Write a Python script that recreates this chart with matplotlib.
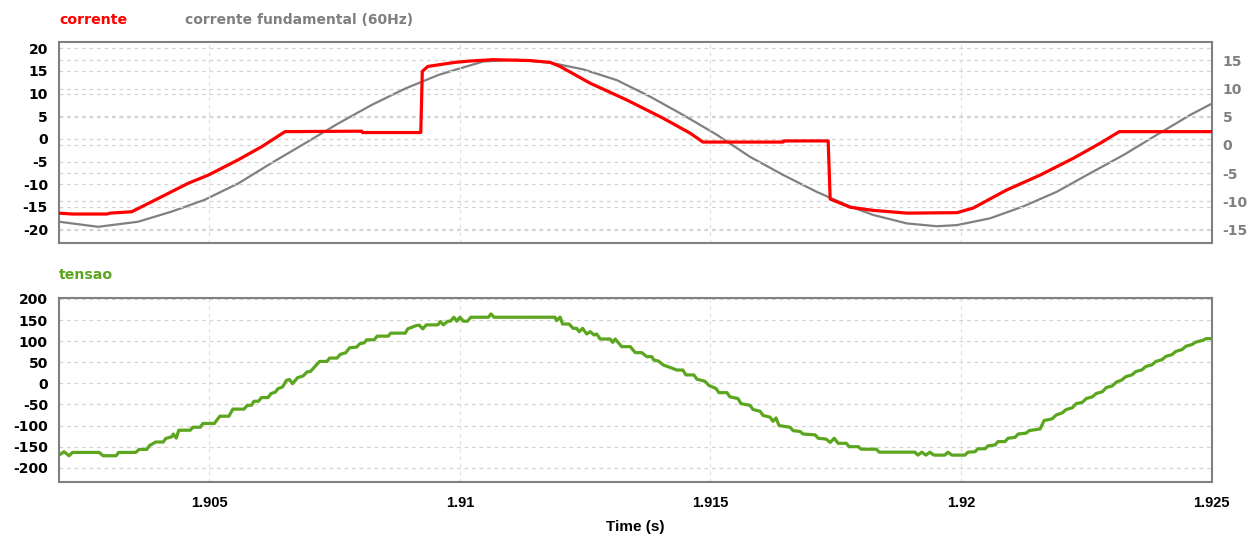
import matplotlib
matplotlib.use("Agg")
import matplotlib.pyplot as plt

plt.rcParams['font.family'] = ['DejaVu Sans']

# ---- data: corrente (red, left axis) ----
corrente_t = [1.90200, 1.90226, 1.90296, 1.90302, 1.90345, 1.90392, 1.90458, 1.90498,
              1.90558, 1.90605, 1.90651, 1.90804, 1.90806, 1.90922, 1.90925, 1.90936,
              1.90990, 1.91020, 1.91066, 1.91140, 1.91180, 1.91200, 1.91260, 1.91333,
              1.91405, 1.91459, 1.91485, 1.91645, 1.91647, 1.91735, 1.91739, 1.91779,
              1.91825, 1.91892, 1.91992, 1.92024, 1.92091, 1.92158, 1.92224, 1.92278,
              1.92316, 1.92500]
corrente_v = [-16.4, -16.6, -16.6, -16.4, -16.1, -13.5, -9.8, -8.0,
              -4.6, -1.7, 1.6, 1.7, 1.4, 1.4, 14.9, 16.0,
              16.9, 17.2, 17.5, 17.3, 16.9, 16.0, 12.3, 8.6,
              4.6, 1.3, -0.7, -0.7, -0.45, -0.45, -13.3, -15.1,
              -15.8, -16.4, -16.3, -15.3, -11.3, -8.0, -4.3, -0.95,
              1.6, 1.6]

# ---- data: corrente fundamental (gray, right axis) ----
fund_t = [1.90200, 1.90278, 1.90358, 1.90425, 1.90491, 1.90558, 1.90624, 1.90691,
          1.90757, 1.90824, 1.90891, 1.90957, 1.90990, 1.91047, 1.91113, 1.91180,
          1.91246, 1.91313, 1.91379, 1.91446, 1.91513, 1.91579, 1.91645, 1.91712,
          1.91779, 1.91825, 1.91892, 1.91952, 1.91992, 1.92058, 1.92124, 1.92191,
          1.92258, 1.92324, 1.92391, 1.92457, 1.92500]
fund_v = [-13.6, -14.5, -13.6, -11.8, -9.7, -6.8, -3.2, 0.3,
          3.8, 7.1, 10.0, 12.4, 13.3, 14.8, 15.1, 14.6,
          13.4, 11.5, 8.6, 5.3, 1.8, -2.1, -5.3, -8.3,
          -10.9, -12.4, -13.9, -14.4, -14.2, -13.0, -10.9, -8.3,
          -5.0, -1.8, 1.8, 5.3, 7.3]

# ---- data: tensao (green, bottom panel) ----
tensao_t = [1.90200, 1.90210, 1.90220, 1.90227, 1.90280, 1.90288, 1.90314, 1.90319,
            1.90353, 1.90360, 1.90375, 1.90381, 1.90393, 1.90408, 1.90413, 1.90425,
            1.90428, 1.90434, 1.90439, 1.90462, 1.90467, 1.90482, 1.90487, 1.90510,
            1.90521, 1.90539, 1.90547, 1.90569, 1.90576, 1.90584, 1.90589, 1.90598,
            1.90604, 1.90617, 1.90623, 1.90632, 1.90637, 1.90646, 1.90654, 1.90660,
            1.90666, 1.90676, 1.90687, 1.90695, 1.90702, 1.90720, 1.90735, 1.90740,
            1.90755, 1.90761, 1.90772, 1.90780, 1.90794, 1.90800, 1.90809, 1.90814,
            1.90829, 1.90835, 1.90857, 1.90862, 1.90891, 1.90896, 1.90913, 1.90919,
            1.90926, 1.90933, 1.90956, 1.90961, 1.90967, 1.90976, 1.90981, 1.90988,
            1.90994, 1.91000, 1.91007, 1.91015, 1.91022, 1.91057, 1.91062, 1.91068,
            1.91190, 1.91193, 1.91200, 1.91205, 1.91218, 1.91226, 1.91233, 1.91238,
            1.91245, 1.91253, 1.91260, 1.91268, 1.91273, 1.91280, 1.91300, 1.91305,
            1.91310, 1.91323, 1.91340, 1.91350, 1.91363, 1.91373, 1.91383, 1.91387,
            1.91396, 1.91406, 1.91419, 1.91433, 1.91445, 1.91451, 1.91467, 1.91473,
            1.91489, 1.91497, 1.91511, 1.91517, 1.91533, 1.91539, 1.91555, 1.91561,
            1.91579, 1.91585, 1.91599, 1.91605, 1.91619, 1.91625, 1.91631, 1.91637,
            1.91659, 1.91665, 1.91679, 1.91685, 1.91709, 1.91715, 1.91731, 1.91739,
            1.91747, 1.91755, 1.91771, 1.91777, 1.91795, 1.91801, 1.91831, 1.91837,
            1.91908, 1.91914, 1.91922, 1.91930, 1.91938, 1.91946, 1.91968, 1.91974,
            1.91982, 1.92008, 1.92014, 1.92028, 1.92034, 1.92048, 1.92054, 1.92068,
            1.92074, 1.92088, 1.92094, 1.92108, 1.92114, 1.92130, 1.92136, 1.92158,
            1.92166, 1.92182, 1.92190, 1.92202, 1.92210, 1.92222, 1.92230, 1.92242,
            1.92250, 1.92262, 1.92270, 1.92282, 1.92290, 1.92302, 1.92310, 1.92321,
            1.92329, 1.92341, 1.92349, 1.92361, 1.92369, 1.92381, 1.92389, 1.92401,
            1.92409, 1.92421, 1.92429, 1.92441, 1.92449, 1.92461, 1.92469, 1.92483,
            1.92489, 1.92500]
tensao_v = [-170, -162, -171.5, -163.6, -163.6, -171.5, -171.5, -163.6,
            -163.6, -156.5, -156.5, -147, -139, -139, -130.5, -126.6,
            -120, -129.8, -111, -111, -104, -104, -95, -95,
            -77.8, -77.8, -61, -61, -52, -52, -42.4, -42.4,
            -33.7, -33.7, -24.3, -20.4, -12.5, -8.6, 7.2, 9,
            -0.7, 13.5, 17.4, 26.9, 28.4, 52, 52, 60,
            60, 68.6, 72.5, 84.3, 85.9, 93.8, 96.1, 103.2,
            103.2, 111.9, 111.9, 119, 119, 129.2, 137, 137.8,
            129.2, 138.6, 138.6, 146.5, 138.6, 147.3, 147.3, 156.7,
            147.3, 156.7, 147.3, 147.3, 156.7, 156.7, 164.6, 156.7,
            156.7, 148.5, 157, 140.6, 140.6, 130.4, 130.4, 122.5,
            130.4, 117, 122.5, 114.6, 117, 105.1, 105.1, 97.2,
            105.1, 87, 87, 72.8, 72.8, 63.3, 63.3, 55.4,
            53, 43.5, 38, 31.6, 31.6, 20, 20, 10,
            5, -5, -12, -22, -22, -32, -36, -48,
            -52, -62, -66, -76, -80, -90, -82, -100,
            -104, -112, -114, -120, -122, -130, -132, -140,
            -130, -142, -142, -150, -150, -156, -156, -163,
            -163, -170, -163, -170, -163, -170, -170, -163,
            -170, -170, -163, -162, -155, -155, -148, -146,
            -138, -138, -130, -128, -120, -118, -112, -108,
            -88, -84, -75, -70, -62, -58, -48, -45,
            -36, -32, -24, -20, -10, -6, 3, 8,
            16, 20, 28, 32, 40, 44, 52, 56,
            64, 68, 76, 80, 88, 92, 98, 102,
            106, 106]

x_ticks = [1.905, 1.91, 1.915, 1.92, 1.925]
x_ticklabels = ['1.905', '1.91', '1.915', '1.92', '1.925']
left_ticks = [-20, -15, -10, -5, 0, 5, 10, 15, 20]
right_ticks = [-15, -10, -5, 0, 5, 10, 15]
volt_ticks = [-200, -150, -100, -50, 0, 50, 100, 150, 200]

RED = '#ff0000'
GRAY = '#808080'
GREEN = '#5ba51f'
SPINE = '#808080'
GRID = '#d4d4d4'
VGRID = '#e2e2d2'

W, H = 1249, 537
fig = plt.figure(figsize=(W / 100, H / 100), dpi=100)

def fx(px):
    return px / W

def fy(py):
    return 1 - py / H

L, R = 59, 1211.5
ax1 = fig.add_axes([fx(L), fy(243), fx(R - L), (243 - 42) / H])
ax3 = fig.add_axes([fx(L), fy(481.7), fx(R - L), (481.7 - 297.7) / H])
ax2 = ax1.twinx()

xlim = (1.902, 1.925)

def style(ax):
    for s in ax.spines.values():
        s.set_color(SPINE)
        s.set_linewidth(1.5)
    ax.tick_params(length=0, pad=8)
    ax.set_xlim(*xlim)
    ax.set_xticks(x_ticks)

style(ax1)
style(ax3)
for s in ax2.spines.values():
    s.set_visible(False)
ax2.tick_params(length=0, pad=8)

tick_font = dict(fontsize=10, fontweight='bold')

# top panel
ax1.set_ylim(-23.0, 21.4)
ax1.set_yticks(left_ticks)
ax1.set_yticklabels([str(v) for v in left_ticks], **tick_font)
ax1.set_xticklabels([])
ax1.grid(True, axis='y', color=GRID, linestyle=(0, (3, 3)), linewidth=0.9)
ax1.grid(True, axis='x', color=VGRID, linestyle=(0, (3, 3)), linewidth=0.9)
ax1.plot(corrente_t, corrente_v, color=RED, linewidth=2.3, zorder=3)

ax2.set_ylim(-17.37, 18.25)
ax2.set_yticks(right_ticks)
ax2.set_yticklabels([str(v) for v in right_ticks], color=GRAY, **tick_font)
ax2.grid(True, axis='y', color=GRID, linestyle=(0, (3, 3)), linewidth=0.9)
ax2.plot(fund_t, fund_v, color=GRAY, linewidth=1.6, zorder=2)
ax2.set_xlim(*xlim)

ax1.set_zorder(ax2.get_zorder() + 1)
ax1.patch.set_visible(False)

# bottom panel
ax3.set_ylim(-233, 203)
ax3.set_yticks(volt_ticks)
ax3.set_yticklabels([str(v) for v in volt_ticks], **tick_font)
ax3.set_xticklabels(x_ticklabels, fontsize=10.5, fontweight='bold',
                    family=['Liberation Sans', 'DejaVu Sans'])
ax3.tick_params(axis='x', pad=10)
ax3.grid(True, axis='y', color=GRID, linestyle=(0, (3, 3)), linewidth=0.9)
ax3.grid(True, axis='x', color=VGRID, linestyle=(0, (3, 3)), linewidth=0.9)
ax3.plot(tensao_t, tensao_v, color=GREEN, linewidth=2.3, zorder=3)

# titles
fig.text(fx(59), fy(20), 'corrente', color=RED, fontsize=10.2, fontweight='bold', va='center', ha='left')
fig.text(fx(185), fy(20), 'corrente fundamental (60Hz)', color=GRAY, fontsize=10, fontweight='bold', va='center', ha='left')
fig.text(fx(59), fy(275), 'tensao', color=GREEN, fontsize=10.2, fontweight='bold', va='center', ha='left')
fig.text(fx(635), fy(527), 'Time (s)', color='black', fontsize=11, fontweight='bold', va='center', ha='center',
         family=['Liberation Sans', 'DejaVu Sans'])

fig.savefig('out.png', dpi=100)
